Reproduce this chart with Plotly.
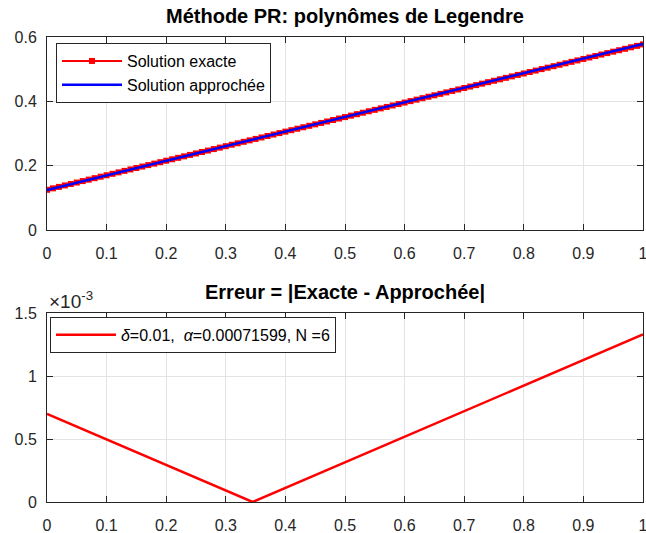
import plotly.graph_objects as go

# ---------------- data ----------------
x_exact = [0.00, 0.01, 0.02, 0.03, 0.04, 0.05, 0.06, 0.07, 0.08, 0.09,
           0.10, 0.11, 0.12, 0.13, 0.14, 0.15, 0.16, 0.17, 0.18, 0.19,
           0.20, 0.21, 0.22, 0.23, 0.24, 0.25, 0.26, 0.27, 0.28, 0.29,
           0.30, 0.31, 0.32, 0.33, 0.34, 0.35, 0.36, 0.37, 0.38, 0.39,
           0.40, 0.41, 0.42, 0.43, 0.44, 0.45, 0.46, 0.47, 0.48, 0.49,
           0.50, 0.51, 0.52, 0.53, 0.54, 0.55, 0.56, 0.57, 0.58, 0.59,
           0.60, 0.61, 0.62, 0.63, 0.64, 0.65, 0.66, 0.67, 0.68, 0.69,
           0.70, 0.71, 0.72, 0.73, 0.74, 0.75, 0.76, 0.77, 0.78, 0.79,
           0.80, 0.81, 0.82, 0.83, 0.84, 0.85, 0.86, 0.87, 0.88, 0.89,
           0.90, 0.91, 0.92, 0.93, 0.94, 0.95, 0.96, 0.97, 0.98, 0.99,
           1.00]
y_exact = [0.1250, 0.1295, 0.1340, 0.1386, 0.1431, 0.1476, 0.1521, 0.1566, 0.1612, 0.1657,
           0.1702, 0.1747, 0.1792, 0.1838, 0.1883, 0.1928, 0.1973, 0.2018, 0.2064, 0.2109,
           0.2154, 0.2199, 0.2244, 0.2290, 0.2335, 0.2380, 0.2425, 0.2470, 0.2516, 0.2561,
           0.2606, 0.2651, 0.2696, 0.2742, 0.2787, 0.2832, 0.2877, 0.2922, 0.2968, 0.3013,
           0.3058, 0.3103, 0.3148, 0.3194, 0.3239, 0.3284, 0.3329, 0.3374, 0.3420, 0.3465,
           0.3510, 0.3555, 0.3600, 0.3646, 0.3691, 0.3736, 0.3781, 0.3826, 0.3872, 0.3917,
           0.3962, 0.4007, 0.4052, 0.4098, 0.4143, 0.4188, 0.4233, 0.4278, 0.4324, 0.4369,
           0.4414, 0.4459, 0.4504, 0.4550, 0.4595, 0.4640, 0.4685, 0.4730, 0.4776, 0.4821,
           0.4866, 0.4911, 0.4956, 0.5002, 0.5047, 0.5092, 0.5137, 0.5182, 0.5228, 0.5273,
           0.5318, 0.5363, 0.5408, 0.5454, 0.5499, 0.5544, 0.5589, 0.5634, 0.5680, 0.5725,
           0.5770]

x_approx = [0.0, 0.345, 1.0]
y_approx = [0.1243, 0.2809, 0.5783]

x_err = [0.0, 0.345, 1.0]
y_err = [0.00070, 0.0, 0.00133]

x_ticks = [0, 0.1, 0.2, 0.3, 0.4, 0.5, 0.6, 0.7, 0.8, 0.9, 1]
x_ticklabels = ["0", "0.1", "0.2", "0.3", "0.4", "0.5", "0.6", "0.7", "0.8", "0.9", "1"]
y1_ticks = [0, 0.2, 0.4, 0.6]
y1_ticklabels = ["0", "0.2", "0.4", "0.6"]
y2_ticks = [0, 0.0005, 0.001, 0.0015]
y2_ticklabels = ["0", "0.5", "1", "1.5"]

title_top = "Méthode PR: polynômes de Legendre"
title_bottom = "Erreur = |Exacte - Approchée|"
name_exact = "Solution exacte"
name_approx = "Solution approchée"
name_err = "<i>δ</i>=0.01,  <i>α</i>=0.00071599, N =6"

# ---------------- figure ----------------
FONT = "Liberation Sans, Arial, Helvetica, sans-serif"
AX = "#262626"
GRID = "#e3e3e3"
FS = 16

fig = go.Figure()
fig.add_trace(go.Scatter(x=x_exact, y=y_exact, mode="lines+markers", name=name_exact,
                         line=dict(color="#ff0000", width=2),
                         marker=dict(symbol="square", size=6, color="#ff0000"),
                         xaxis="x", yaxis="y", legend="legend"))
fig.add_trace(go.Scatter(x=x_approx, y=y_approx, mode="lines", name=name_approx,
                         line=dict(color="#0000ff", width=2.5),
                         xaxis="x", yaxis="y", legend="legend"))
fig.add_trace(go.Scatter(x=x_err, y=y_err, mode="lines", name=name_err,
                         line=dict(color="#ff0000", width=2.5),
                         xaxis="x2", yaxis="y2", legend="legend2"))

axis_common = dict(showline=True, linecolor=AX, linewidth=1, mirror="ticks",
                   ticks="inside", ticklen=6, tickcolor=AX, tickwidth=1,
                   showgrid=True, gridcolor=GRID, gridwidth=1, zeroline=False,
                   ticklabeloverflow="allow", automargin=False,
                   tickfont=dict(family=FONT, size=FS, color=AX))

H_TOP = 272 / 465
fig.update_layout(
    width=646, height=533,
    margin=dict(l=47, r=3, t=37, b=31, autoexpand=False),
    paper_bgcolor="white", plot_bgcolor="white",
    font=dict(family=FONT, size=FS, color=AX),
    xaxis=dict(domain=[0, 1], anchor="y", range=[0, 1], tickvals=x_ticks,
               ticktext=x_ticklabels, ticklabelstandoff=9, **axis_common),
    yaxis=dict(domain=[H_TOP, 1], anchor="x", range=[0, 0.6], tickvals=y1_ticks,
               ticktext=y1_ticklabels, ticklabelstandoff=6, **axis_common),
    xaxis2=dict(domain=[0, 1], anchor="y2", range=[0, 1], tickvals=x_ticks,
                ticktext=x_ticklabels, ticklabelstandoff=9, **axis_common),
    yaxis2=dict(domain=[0, 189 / 465], anchor="x2", range=[0, 0.0015], tickvals=y2_ticks,
                ticktext=y2_ticklabels, ticklabelstandoff=6, **axis_common),
    legend=dict(x=0.0151, y=0.987, xanchor="left", yanchor="top",
                bgcolor="white", bordercolor=AX, borderwidth=1,
                font=dict(family=FONT, size=FS, color="black"),
                tracegroupgap=0, itemwidth=60),
    legend2=dict(x=0.005, y=0.398, xanchor="left", yanchor="top",
                 bgcolor="white", bordercolor=AX, borderwidth=1,
                 font=dict(family=FONT, size=FS, color="black"), itemwidth=60),
    showlegend=True,
    annotations=[
        dict(text="<b>" + title_top + "</b>", x=0.5, y=(502 - 16) / 465, xref="paper", yref="paper",
             xanchor="center", yanchor="middle", showarrow=False,
             font=dict(family=FONT, size=20, color="black")),
        dict(text="<b>" + title_bottom + "</b>", x=0.5, y=(502 - 292) / 465, xref="paper", yref="paper",
             xanchor="center", yanchor="middle", showarrow=False,
             font=dict(family=FONT, size=20, color="black")),
        dict(text="×10<sup>-3</sup>", x=0.0, y=(502 - 300) / 465, xref="paper", yref="paper",
             xanchor="left", yanchor="middle", showarrow=False,
             font=dict(family=FONT, size=19, color=AX)),
    ],
)

fig.write_html("out.html")
